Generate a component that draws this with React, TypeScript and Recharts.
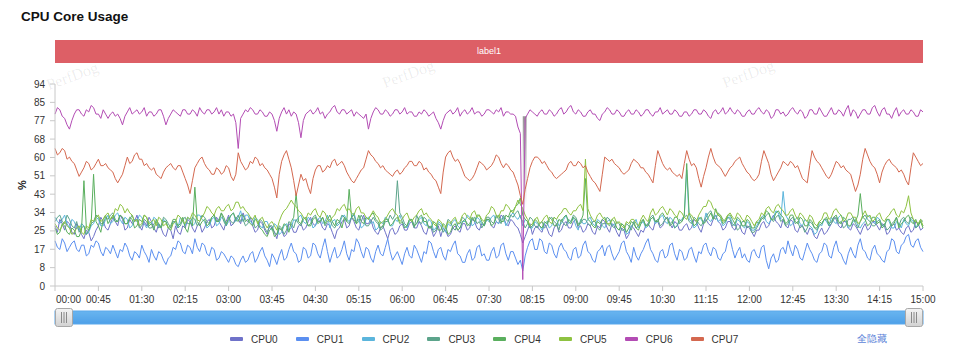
import React from 'react';
import { Brush, Label, Line, LineChart, ReferenceArea, XAxis, YAxis } from 'recharts';

const SERIES_NAMES = ['CPU0', 'CPU1', 'CPU2', 'CPU3', 'CPU4', 'CPU5', 'CPU6', 'CPU7'];
const SERIES_COLORS = ['#6f72c9', '#5b8ff0', '#5bb5dc', '#5ca48b', '#5aaf5e', '#8ec241', '#b34cb4', '#d4684f'];

const STEP_SECONDS = 2.5;
const X_TICK_LABELS = [
  '00:00', '00:45', '01:30', '02:15', '03:00', '03:45', '04:30', '05:15', '06:00', '06:45', '07:30',
  '08:15', '09:00', '09:45', '10:30', '11:15', '12:00', '12:45', '13:30', '14:15', '15:00',
];
const Y_MAX = 94;
const Y_TICK_LABELS = ['0', '8', '17', '25', '34', '43', '51', '60', '68', '77', '85', '94'];

// the pause around 08:05, drawn as a grey band
const GAP_START = 485;
const GAP_END = 489;

const CPU0 = [
  28, 25, 31, 29, 26, 30, 29, 25, 24, 29,
  27, 24, 22, 26, 25, 21, 23, 26, 28, 32,
  30, 27, 26, 29, 32, 30, 28, 33, 31, 26,
  27, 31, 29, 30, 33, 28, 26, 30, 28, 32,
  30, 27, 25, 29, 27, 24, 23, 27, 26, 22,
  28, 25, 24, 28, 27, 31, 30, 27, 25, 28,
  29, 25, 27, 30, 31, 27, 28, 32, 30, 28,
  26, 30, 33, 28, 29, 32, 31, 29, 34, 31,
  30, 32, 28, 25, 26, 30, 29, 26, 24, 28,
  27, 25, 22, 27, 26, 23, 24, 29, 28, 25,
  25, 28, 29, 26, 27, 30, 32, 29, 28, 31,
  30, 27, 26, 29, 28, 25, 22, 26, 27, 30,
  31, 27, 28, 32, 30, 27, 26, 30, 33, 29,
  29, 31, 27, 25, 24, 27, 28, 25, 22, 26,
  27, 24, 25, 28, 29, 26, 26, 29, 30, 27,
  27, 30, 28, 25, 24, 28, 27, 23, 25, 28,
  23, 27, 26, 23, 24, 27, 28, 26, 25, 29,
  29, 26, 27, 31, 30, 27, 26, 29, 28, 31,
  31, 28, 27, 30, 29, 33, 32, 29, 28, 31,
  30, 28, 27, 24, 20, 23, 26, 29, 24, 27,
  28, 26, 25, 29, 27, 24, 23, 27, 29, 25,
  26, 29, 30, 27, 27, 30, 31, 27, 28, 25,
  26, 29, 28, 25, 24, 28, 27, 31, 30, 27,
  25, 29, 28, 25, 23, 27, 26, 22, 24, 28,
  27, 25, 23, 26, 25, 28, 29, 27, 26, 30,
  30, 27, 28, 31, 32, 29, 27, 30, 29, 26,
  26, 28, 29, 26, 27, 31, 30, 27, 25, 29,
  31, 29, 28, 31, 33, 30, 29, 26, 27, 30,
  30, 27, 26, 29, 28, 25, 24, 28, 27, 25,
  23, 26, 26, 29, 30, 27, 28, 31, 33, 30,
  29, 27, 31, 28, 27, 31, 30, 26, 25, 28,
  28, 26, 24, 27, 26, 23, 22, 25, 27, 24,
  25, 27, 29, 32, 31, 28, 27, 30, 30, 27,
  26, 29, 28, 26, 24, 27, 29, 26, 27, 30,
  30, 28, 26, 29, 28, 24, 25, 28, 29, 26,
  27, 25, 24, 27, 28, 25, 26, 30, 29, 26,
  27,
];

const CPU1 = [
  21, 18, 17, 22, 20, 16, 18, 20, 21, 17,
  16, 19, 19, 14, 15, 19, 18, 21, 20, 16,
  14, 18, 17, 15, 19, 16, 13, 17, 16, 20,
  18, 14, 12, 16, 15, 13, 19, 16, 14, 11,
  17, 14, 12, 16, 15, 12, 10, 13, 14, 18,
  17, 21, 20, 16, 15, 19, 18, 15, 22, 18,
  16, 20, 19, 15, 14, 18, 17, 12, 13, 16,
  15, 13, 11, 14, 13, 10, 9, 12, 14, 11,
  12, 15, 16, 11, 13, 16, 18, 14, 12, 9,
  15, 13, 10, 14, 17, 12, 13, 17, 20, 16,
  15, 11, 12, 18, 17, 13, 14, 20, 19, 15,
  13, 18, 22, 16, 11, 15, 18, 13, 14, 17,
  21, 15, 12, 17, 16, 22, 20, 16, 13, 18,
  17, 13, 11, 16, 19, 15, 14, 18, 22, 16,
  12, 14, 16, 13, 10, 15, 18, 14, 13, 19,
  17, 14, 11, 16, 15, 21, 20, 16, 13, 17,
  18, 14, 12, 17, 16, 19, 21, 15, 14, 11,
  11, 15, 17, 12, 13, 18, 19, 14, 15, 12,
  12, 16, 18, 13, 14, 19, 20, 15, 12, 16,
  16, 13, 10, 12, 7, 14, 18, 21, 22, 17,
  17, 22, 21, 16, 15, 20, 19, 15, 13, 18,
  20, 17, 16, 13, 12, 17, 18, 13, 14, 19,
  21, 16, 15, 12, 11, 16, 17, 19, 14, 18,
  19, 15, 12, 14, 16, 20, 21, 16, 14, 11,
  18, 14, 12, 15, 17, 20, 22, 17, 15, 12,
  11, 16, 17, 13, 14, 19, 20, 15, 12, 17,
  16, 12, 13, 17, 18, 14, 11, 16, 15, 19,
  20, 16, 14, 18, 17, 13, 12, 15, 16, 21,
  22, 17, 13, 16, 18, 13, 15, 12, 11, 16,
  17, 14, 13, 18, 19, 12, 8, 13, 15, 11,
  12, 17, 18, 15, 21, 17, 14, 19, 17, 13,
  12, 16, 20, 17, 15, 12, 11, 15, 16, 20,
  19, 14, 13, 18, 21, 16, 15, 12, 10, 15,
  18, 15, 13, 19, 22, 17, 16, 13, 12, 17,
  19, 15, 14, 12, 11, 16, 17, 22, 21, 16,
  15, 19, 20, 23, 24, 19, 18, 21, 22, 18,
  16,
];

const CPU2 = [
  32, 30, 29, 31, 33, 29, 27, 31, 30, 27,
  26, 29, 28, 24, 25, 28, 29, 32, 31, 28,
  28, 31, 33, 29, 30, 33, 34, 31, 29, 32,
  31, 27, 28, 31, 30, 33, 32, 29, 27, 30,
  29, 32, 31, 28, 27, 31, 30, 27, 26, 30,
  29, 27, 32, 30, 28, 32, 31, 28, 29, 33,
  33, 31, 30, 27, 28, 31, 32, 28, 29, 32,
  31, 28, 30, 33, 34, 30, 32, 35, 30, 33,
  33, 30, 29, 32, 31, 28, 27, 30, 30, 27,
  26, 29, 28, 24, 25, 28, 29, 26, 27, 31,
  30, 32, 33, 30, 29, 32, 31, 27, 28, 31,
  32, 29, 30, 33, 27, 30, 31, 28, 29, 32,
  33, 31, 30, 32, 34, 30, 31, 27, 28, 31,
  32, 29, 30, 26, 27, 30, 29, 32, 31, 28,
  28, 31, 30, 33, 30, 28, 27, 30, 31, 28,
  29, 31, 32, 29, 28, 31, 30, 26, 27, 30,
  29, 27, 25, 29, 28, 30, 31, 28, 27, 30,
  30, 33, 32, 28, 29, 32, 31, 29, 28, 31,
  30, 32, 33, 30, 29, 31, 32, 28, 30, 33,
  34, 32, 31, 33, 28, 31, 30, 27, 27, 30,
  29, 28, 26, 29, 30, 27, 28, 32, 31, 28,
  29, 31, 33, 29, 30, 32, 28, 26, 31, 29,
  29, 31, 32, 29, 28, 31, 30, 28, 27, 30,
  31, 28, 29, 27, 26, 29, 28, 24, 25, 28,
  29, 31, 27, 29, 30, 27, 28, 31, 32, 29,
  30, 32, 33, 30, 29, 32, 31, 27, 28, 30,
  31, 33, 54, 31, 30, 27, 28, 32, 31, 29,
  34, 31, 30, 32, 33, 30, 31, 28, 29, 32,
  32, 29, 28, 31, 30, 28, 27, 30, 29, 26,
  26, 28, 30, 32, 33, 30, 29, 31, 32, 35,
  34, 31, 44, 33, 31, 28, 29, 31, 32, 29,
  28, 31, 30, 28, 27, 24, 25, 29, 28, 31,
  30, 28, 32, 30, 29, 32, 33, 31, 30, 27,
  28, 30, 31, 28, 27, 29, 30, 33, 32, 30,
  29, 32, 31, 28, 28, 31, 30, 27, 27, 30,
  29, 27, 31, 29, 28, 31, 30, 27, 29, 30,
  28,
];

const CPU3 = [
  30, 32, 33, 30, 29, 33, 31, 28, 27, 30,
  25, 27, 28, 24, 26, 29, 30, 33, 32, 29,
  29, 32, 31, 33, 34, 31, 30, 33, 32, 29,
  29, 31, 33, 30, 31, 27, 28, 31, 30, 27,
  27, 29, 30, 27, 28, 32, 31, 29, 27, 30,
  30, 27, 28, 31, 32, 29, 29, 32, 31, 28,
  30, 33, 32, 30, 29, 32, 33, 30, 31, 34,
  30, 28, 32, 30, 29, 31, 33, 30, 31, 28,
  29, 32, 31, 27, 28, 31, 30, 27, 25, 28,
  28, 25, 24, 28, 27, 24, 26, 30, 29, 27,
  31, 29, 28, 31, 32, 28, 29, 32, 33, 30,
  30, 32, 28, 30, 31, 28, 27, 29, 30, 33,
  32, 30, 29, 32, 33, 29, 30, 33, 31, 28,
  28, 30, 32, 30, 29, 26, 27, 30, 30, 33,
  31, 33, 49, 34, 32, 29, 28, 31, 30, 27,
  33, 30, 29, 32, 31, 27, 28, 25, 26, 29,
  28, 25, 27, 31, 30, 27, 26, 29, 29, 32,
  31, 29, 28, 31, 32, 29, 30, 27, 29, 32,
  32, 30, 29, 33, 31, 29, 33, 31, 30, 33,
  32, 34, 35, 32, 30, 27, 29, 32, 31, 28,
  27, 29, 30, 27, 28, 31, 32, 30, 29, 26,
  31, 29, 28, 31, 30, 33, 32, 29, 29, 31,
  31, 29, 28, 30, 30, 27, 26, 29, 29, 32,
  31, 28, 27, 30, 29, 26, 26, 29, 28, 26,
  30, 27, 28, 30, 31, 28, 29, 32, 33, 30,
  31, 28, 29, 31, 32, 29, 30, 27, 28, 31,
  30, 32, 33, 30, 29, 32, 31, 29, 28, 30,
  32, 34, 35, 32, 31, 34, 33, 31, 30, 32,
  31, 28, 29, 26, 27, 30, 30, 27, 28, 25,
  25, 27, 29, 32, 31, 33, 34, 31, 30, 32,
  33, 30, 31, 28, 29, 31, 32, 29, 30, 27,
  28, 25, 27, 30, 29, 27, 26, 28, 29, 31,
  31, 28, 29, 31, 32, 29, 30, 27, 28, 31,
  31, 32, 29, 27, 30, 32, 33, 31, 30, 28,
  28, 30, 31, 28, 29, 26, 27, 29, 30, 32,
  28, 31, 32, 30, 29, 32, 31, 27, 28, 31,
  30,
];

const CPU4 = [
  27, 24, 25, 29, 28, 25, 24, 27, 26, 23,
  23, 26, 49, 27, 26, 29, 52, 30, 28, 25,
  31, 33, 29, 31, 33, 30, 30, 33, 32, 29,
  29, 32, 31, 27, 28, 31, 30, 33, 32, 28,
  29, 26, 31, 29, 27, 30, 30, 27, 28, 31,
  31, 28, 29, 32, 27, 25, 30, 28, 46, 30,
  28, 30, 31, 28, 29, 32, 33, 30, 30, 34,
  32, 29, 31, 33, 34, 31, 30, 33, 33, 30,
  31, 29, 28, 31, 30, 27, 26, 24, 23, 26,
  27, 23, 24, 27, 26, 29, 28, 25, 30, 32,
  43, 30, 29, 32, 31, 28, 28, 31, 32, 29,
  30, 32, 29, 31, 33, 30, 28, 31, 30, 27,
  32, 30, 45, 32, 31, 29, 33, 30, 29, 32,
  31, 33, 34, 31, 30, 27, 28, 31, 31, 28,
  29, 31, 32, 29, 30, 27, 28, 31, 31, 28,
  29, 32, 33, 30, 30, 27, 27, 30, 29, 26,
  26, 29, 28, 24, 25, 28, 29, 26, 27, 30,
  31, 28, 29, 32, 30, 33, 33, 30, 28, 31,
  31, 28, 29, 32, 33, 30, 30, 33, 32, 35,
  35, 37, 38, 41, 33, 31, 30, 27, 28, 31,
  30, 28, 27, 30, 29, 32, 31, 28, 28, 31,
  30, 32, 33, 30, 29, 32, 31, 28, 30, 33,
  50, 31, 30, 28, 27, 30, 29, 31, 32, 29,
  28, 31, 30, 27, 26, 29, 28, 25, 27, 30,
  29, 27, 26, 29, 31, 28, 28, 31, 32, 30,
  30, 33, 34, 32, 31, 28, 29, 32, 32, 29,
  30, 33, 57, 34, 31, 28, 29, 31, 32, 29,
  30, 32, 34, 31, 36, 33, 32, 29, 30, 33,
  33, 31, 29, 32, 31, 28, 28, 31, 30, 27,
  27, 30, 29, 31, 32, 35, 34, 31, 31, 34,
  35, 33, 32, 29, 30, 33, 33, 30, 29, 32,
  31, 28, 28, 31, 30, 27, 27, 30, 29, 31,
  32, 29, 30, 32, 33, 30, 29, 32, 31, 28,
  28, 31, 30, 33, 43, 32, 31, 28, 29, 32,
  32, 29, 30, 27, 28, 31, 31, 28, 29, 32,
  27, 29, 30, 32, 33, 30, 29, 31, 28, 30,
  27,
];

const CPU5 = [
  29, 27, 26, 28, 30, 28, 27, 24, 25, 27,
  28, 25, 24, 28, 27, 31, 30, 32, 33, 30,
  31, 33, 34, 31, 32, 36, 35, 38, 37, 34,
  36, 34, 33, 30, 31, 28, 29, 33, 32, 29,
  30, 31, 28, 32, 31, 28, 29, 27, 26, 29,
  30, 33, 32, 30, 29, 32, 31, 34, 33, 31,
  30, 32, 34, 37, 36, 34, 33, 36, 37, 35,
  35, 37, 38, 35, 36, 39, 39, 36, 37, 35,
  34, 32, 31, 33, 29, 31, 32, 29, 27, 29,
  30, 28, 26, 30, 33, 35, 36, 38, 40, 38,
  37, 35, 34, 32, 31, 34, 33, 35, 36, 33,
  32, 35, 34, 31, 30, 32, 33, 36, 35, 37,
  38, 35, 36, 34, 33, 36, 37, 34, 34, 32,
  31, 33, 35, 33, 32, 29, 30, 31, 33, 35,
  36, 34, 33, 30, 31, 33, 34, 31, 30, 32,
  33, 35, 36, 33, 34, 32, 31, 29, 28, 31,
  30, 28, 27, 30, 29, 31, 32, 29, 30, 33,
  34, 32, 31, 34, 35, 32, 33, 31, 30, 33,
  34, 37, 36, 33, 32, 35, 35, 38, 37, 35,
  34, 37, 40, 38, 36, 33, 31, 28, 29, 31,
  32, 29, 30, 32, 33, 30, 29, 32, 31, 33,
  34, 36, 36, 34, 33, 35, 35, 37, 38, 35,
  59, 36, 33, 31, 30, 33, 34, 32, 31, 29,
  29, 31, 32, 29, 30, 28, 27, 30, 29, 31,
  31, 29, 28, 31, 33, 31, 30, 34, 36, 33,
  34, 36, 37, 35, 33, 36, 35, 33, 32, 35,
  34, 32, 31, 34, 33, 31, 30, 33, 35, 37,
  37, 40, 39, 36, 35, 33, 33, 30, 31, 33,
  34, 32, 31, 34, 33, 31, 30, 33, 32, 30,
  28, 30, 31, 34, 33, 36, 37, 35, 34, 37,
  38, 36, 35, 33, 33, 35, 36, 33, 31, 34,
  33, 31, 30, 33, 32, 29, 28, 30, 31, 34,
  34, 31, 32, 35, 36, 34, 33, 30, 31, 34,
  34, 32, 32, 29, 30, 33, 35, 32, 33, 30,
  31, 33, 34, 31, 30, 32, 33, 35, 36, 33,
  32, 35, 34, 37, 42, 34, 31, 30, 29, 31,
  28,
];

const CPU6 = [
  80, 83, 82, 79, 78, 75, 73, 77, 80, 82,
  82, 80, 79, 82, 81, 84, 83, 80, 80, 78,
  82, 80, 78, 80, 81, 79, 80, 78, 75, 79,
  81, 83, 80, 81, 82, 80, 81, 83, 79, 81,
  81, 79, 80, 82, 82, 79, 75, 78, 80, 82,
  81, 80, 79, 82, 82, 80, 80, 82, 81, 79,
  83, 81, 80, 82, 82, 80, 81, 83, 80, 82,
  79, 81, 81, 79, 80, 76, 64, 78, 80, 82,
  81, 83, 82, 80, 80, 82, 81, 79, 79, 81,
  80, 77, 72, 78, 81, 83, 80, 82, 79, 81,
  80, 76, 69, 77, 80, 81, 82, 80, 81, 83,
  80, 81, 78, 80, 81, 83, 84, 81, 80, 82,
  82, 80, 81, 82, 79, 81, 80, 79, 78, 80,
  73, 78, 81, 83, 82, 80, 80, 82, 81, 79,
  80, 82, 82, 80, 81, 83, 80, 81, 81, 79,
  79, 81, 80, 82, 81, 79, 80, 81, 78, 76,
  73, 77, 80, 81, 82, 80, 81, 83, 79, 81,
  82, 80, 81, 83, 80, 81, 81, 79, 80, 82,
  82, 81, 80, 82, 81, 83, 79, 81, 81, 80,
  80, 79, 74, 71, 3, 78, 80, 82, 81, 80,
  79, 81, 82, 80, 80, 82, 81, 79, 80, 82,
  83, 80, 81, 83, 84, 81, 80, 82, 81, 79,
  79, 81, 82, 80, 80, 78, 77, 80, 81, 83,
  82, 80, 80, 82, 81, 79, 79, 81, 82, 80,
  80, 82, 81, 79, 80, 82, 82, 80, 79, 81,
  81, 83, 80, 81, 82, 80, 80, 82, 81, 79,
  79, 81, 81, 79, 80, 82, 82, 80, 80, 82,
  81, 79, 78, 81, 82, 80, 81, 83, 80, 81,
  83, 81, 80, 82, 81, 79, 79, 81, 82, 80,
  80, 82, 83, 81, 80, 82, 81, 78, 79, 82,
  82, 80, 81, 79, 80, 82, 83, 81, 80, 82,
  81, 78, 79, 82, 82, 80, 80, 83, 81, 79,
  79, 81, 83, 80, 80, 82, 81, 79, 82, 84,
  79, 82, 81, 78, 80, 82, 82, 80, 80, 83,
  84, 81, 79, 82, 83, 80, 80, 78, 81, 83,
  79, 81, 82, 80, 80, 82, 81, 79, 79, 82,
  81,
];

const CPU7 = [
  64, 61, 62, 64, 63, 59, 60, 58, 57, 54,
  51, 53, 55, 58, 57, 54, 55, 57, 59, 56,
  56, 57, 55, 54, 53, 50, 48, 50, 52, 56,
  60, 57, 58, 61, 62, 59, 59, 56, 57, 55,
  54, 55, 52, 51, 50, 53, 55, 56, 57, 55,
  54, 56, 56, 53, 50, 47, 43, 49, 55, 57,
  59, 60, 57, 55, 54, 52, 52, 55, 54, 52,
  53, 56, 55, 51, 49, 52, 62, 58, 56, 54,
  55, 58, 57, 60, 59, 56, 57, 55, 54, 52,
  50, 46, 41, 52, 58, 61, 63, 59, 55, 49,
  42, 47, 52, 49, 50, 46, 43, 50, 54, 56,
  56, 53, 54, 56, 55, 58, 59, 56, 57, 58,
  56, 53, 51, 49, 48, 50, 52, 54, 55, 59,
  63, 61, 60, 58, 57, 55, 56, 54, 53, 52,
  51, 53, 54, 52, 53, 55, 56, 58, 58, 56,
  56, 58, 57, 54, 55, 53, 52, 50, 49, 46,
  43, 53, 60, 62, 63, 60, 58, 59, 57, 54,
  51, 50, 49, 50, 52, 55, 58, 57, 56, 54,
  55, 56, 58, 61, 60, 57, 55, 57, 56, 54,
  53, 50, 47, 42, 38, 45, 50, 55, 58, 60,
  60, 59, 57, 58, 56, 54, 53, 51, 50, 51,
  52, 53, 54, 57, 58, 56, 56, 58, 57, 55,
  56, 53, 51, 49, 48, 46, 44, 52, 60, 59,
  58, 59, 57, 56, 55, 53, 52, 53, 54, 57,
  59, 58, 57, 55, 55, 53, 52, 50, 48, 56,
  63, 60, 57, 55, 54, 55, 53, 52, 51, 52,
  50, 57, 63, 59, 56, 57, 55, 50, 46, 51,
  55, 60, 64, 60, 57, 56, 55, 53, 51, 53,
  55, 56, 58, 59, 60, 57, 55, 53, 52, 50,
  49, 50, 52, 58, 63, 60, 57, 52, 49, 51,
  53, 55, 58, 57, 56, 58, 57, 55, 56, 53,
  50, 49, 48, 56, 63, 60, 58, 57, 55, 53,
  51, 50, 52, 55, 58, 57, 55, 56, 54, 53,
  52, 48, 44, 47, 52, 59, 64, 61, 58, 56,
  55, 52, 48, 53, 56, 58, 59, 57, 56, 55,
  53, 54, 52, 49, 47, 55, 62, 60, 58, 56,
  57,
];

const SERIES_VALUES = [CPU0, CPU1, CPU2, CPU3, CPU4, CPU5, CPU6, CPU7];

const data = CPU0.map((_, i) => {
  const row: Record<string, number> = { t: i * STEP_SECONDS };
  SERIES_NAMES.forEach((name, s) => {
    row[name] = SERIES_VALUES[s][i];
  });
  return row;
});

const toSeconds = (label: string) => {
  const [m, s] = label.split(':').map(Number);
  return m * 60 + s;
};
const X_TICKS = X_TICK_LABELS.map(toSeconds);
const Y_TICKS = Y_TICK_LABELS.map((_, i) => (i * Y_MAX) / (Y_TICK_LABELS.length - 1));

const FONT = '"Liberation Sans", Arial, Helvetica, sans-serif';
const AXIS_COLOR = '#c8c8c8';
const TEXT_COLOR = '#333';

function TimeTick(props: any) {
  const { x, y, payload, index } = props;
  const first = index === 0;
  return (
    <text
      x={first ? x + 1 : x}
      y={y}
      dy="0.71em"
      textAnchor={first ? 'start' : 'middle'}
      fill={TEXT_COLOR}
      fontSize={10}
    >
      {X_TICK_LABELS[X_TICKS.indexOf(payload.value)]}
    </text>
  );
}

function SliderHandle(props: any) {
  const { x, y, width, height } = props;
  const cx = x + width / 2;
  return (
    <g>
      <rect x={x + 0.5} y={y - 2.5} width={width - 1} height={height + 5} rx={2} fill="url(#handleGrad)" stroke="#a8a8a8" />
      {[-2.5, 0, 2.5].map((d) => (
        <line key={d} x1={cx + d} x2={cx + d} y1={y + 1} y2={y + height - 1} stroke="#8a8a8a" strokeWidth={1} />
      ))}
    </g>
  );
}

const WATERMARKS = [
  { left: 50, top: 76 },
  { left: 386, top: 74 },
  { left: 726, top: 74 },
];

export default function App() {
  return (
    <div
      style={{
        position: 'absolute',
        left: 0,
        top: 0,
        width: 960,
        height: 357,
        background: '#fff',
        fontFamily: FONT,
        overflow: 'hidden',
      }}
    >
      <div style={{ position: 'absolute', left: 21, top: 9, fontSize: 13.5, fontWeight: 700, color: '#111' }}>
        CPU Core Usage
      </div>
      <div
        style={{
          position: 'absolute',
          left: 55,
          top: 40,
          width: 868,
          height: 23,
          lineHeight: '23px',
          background: '#dd5f66',
          color: '#fff',
          fontSize: 9,
          textAlign: 'center',
        }}
      >
        label1
      </div>
      {WATERMARKS.map((w, i) => (
        <div
          key={i}
          style={{
            position: 'absolute',
            left: w.left,
            top: w.top,
            fontFamily: '"Liberation Serif", "DejaVu Serif", serif',
            fontSize: 16,
            color: 'rgba(0,0,0,0.08)',
            transform: 'rotate(-20deg)',
            transformOrigin: 'left bottom',
          }}
        >
          PerfDog
        </div>
      ))}
      <div style={{ position: 'absolute', left: 0, top: 0 }}>
        <LineChart width={960} height={357} data={data} margin={{ top: 84, right: 37, bottom: 28, left: 15 }}>
          <defs>
            <linearGradient id="sliderGrad" x1="0" y1="0" x2="0" y2="1">
              <stop offset="0%" stopColor="#6cb8f1" />
              <stop offset="100%" stopColor="#4c9ee8" />
            </linearGradient>
            <linearGradient id="handleGrad" x1="0" y1="0" x2="0" y2="1">
              <stop offset="0%" stopColor="#f4f4f4" />
              <stop offset="100%" stopColor="#d2d2d2" />
            </linearGradient>
            <linearGradient id="gapGrad" x1="0" y1="0" x2="0" y2="1">
              <stop offset="0%" stopColor="#8c8c8c" stopOpacity={0.9} />
              <stop offset="100%" stopColor="#8c8c8c" stopOpacity={0} />
            </linearGradient>
          </defs>
          <XAxis
            dataKey="t"
            type="number"
            domain={[0, 900]}
            ticks={X_TICKS}
            interval={0}
            height={30}
            tickSize={5}
            tickMargin={5}
            stroke={AXIS_COLOR}
            tick={<TimeTick />}
          />
          <YAxis
            domain={[0, Y_MAX]}
            ticks={Y_TICKS}
            interval={0}
            width={40}
            tickSize={5}
            tickMargin={5}
            stroke={AXIS_COLOR}
            tick={{ fill: TEXT_COLOR, fontSize: 10 }}
            tickFormatter={(_v: number, i: number) => Y_TICK_LABELS[i]}
          >
            <Label
              value="%"
              angle={-90}
              position="insideLeft"
              offset={7}
              style={{ textAnchor: 'middle', fontWeight: 700, fontSize: 11, fill: '#222' }}
            />
          </YAxis>
          <ReferenceArea x1={GAP_START} x2={GAP_END} y1={36} y2={79} fill="url(#gapGrad)" fillOpacity={1} stroke="none" />
          {SERIES_NAMES.map((name, i) => (
            <Line
              key={name}
              type="linear"
              dataKey={name}
              stroke={SERIES_COLORS[i]}
              strokeWidth={1}
              dot={false}
              activeDot={false}
              isAnimationActive={false}
            />
          ))}
          <Brush
            dataKey="t"
            y={311}
            height={13}
            travellerWidth={18}
            fill="url(#sliderGrad)"
            stroke="#5aa8ec"
            traveller={(p: any) => <SliderHandle {...p} />}
          />
        </LineChart>
      </div>
      <div
        style={{
          position: 'absolute',
          left: 230,
          top: 332,
          display: 'flex',
          alignItems: 'center',
          height: 14,
          fontSize: 10,
          color: TEXT_COLOR,
        }}
      >
        {SERIES_NAMES.map((name, i) => (
          <div key={name} style={{ display: 'flex', alignItems: 'center', width: 65.8 }}>
            <span
              style={{ display: 'inline-block', width: 13, height: 4, borderRadius: 1, background: SERIES_COLORS[i], marginRight: 8 }}
            />
            {name}
          </div>
        ))}
      </div>
      <div style={{ position: 'absolute', left: 857, top: 332, height: 14, lineHeight: '14px', fontSize: 10, color: '#5b7fd8' }}>
        全隐藏
      </div>
    </div>
  );
}
